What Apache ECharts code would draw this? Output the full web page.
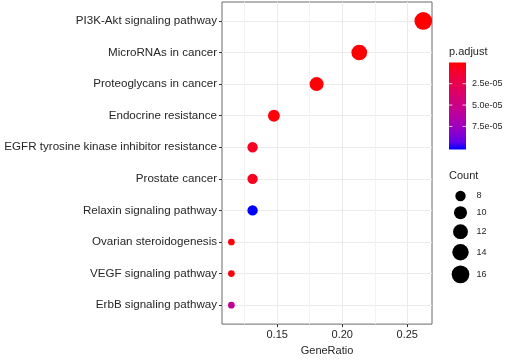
<!DOCTYPE html>
<html>
<head>
<meta charset="utf-8">
<script src="https://cdn.jsdelivr.net/npm/echarts@6/dist/echarts.min.js"></script>
<style>html,body{margin:0;padding:0;background:#fff}#c{width:505px;height:361px}</style>
</head>
<body>
<div id="c"></div>
<script>
const categories = ['PI3K-Akt signaling pathway', 'MicroRNAs in cancer', 'Proteoglycans in cancer', 'Endocrine resistance', 'EGFR tyrosine kinase inhibitor resistance', 'Prostate cancer', 'Relaxin signaling pathway', 'Ovarian steroidogenesis', 'VEGF signaling pathway', 'ErbB signaling pathway'];
const geneRatio = [0.2623, 0.2131, 0.1803, 0.1475, 0.1311, 0.1311, 0.1311, 0.1148, 0.1148, 0.1148];
const counts = [16, 13, 11, 9, 8, 8, 8, 7, 7, 7];
const pAdjust = [2.0e-7, 1.0e-6, 1.5e-6, 2.5e-6, 8.5e-6, 7.0e-6, 1.02e-4, 2.5e-6, 3.0e-6, 5.6e-5];
const xTicks = [0.15, 0.20, 0.25];
const xMinorTicks = [0.125, 0.175, 0.225];
const colorTicks = [2.5e-5, 5.0e-5, 7.5e-5];
const colorTickLabels = ['2.5e-05', '5.0e-05', '7.5e-05'];
const countLegend = [8, 10, 12, 14, 16];

// ---- Lab interpolation red -> blue (like ggplot gradient) ----
function srgbToLin(c){c/=255;return c<=0.04045?c/12.92:Math.pow((c+0.055)/1.055,2.4);}
function linToSrgb(c){c=c<=0.0031308?12.92*c:1.055*Math.pow(c,1/2.4)-0.055;return Math.max(0,Math.min(255,Math.round(c*255)));}
function rgb2lab(r,g,b){
  r=srgbToLin(r);g=srgbToLin(g);b=srgbToLin(b);
  let x=(r*0.4124+g*0.3576+b*0.1805)/0.95047, y=(r*0.2126+g*0.7152+b*0.0722), z=(r*0.0193+g*0.1192+b*0.9505)/1.08883;
  const f=t=>t>0.008856?Math.cbrt(t):7.787*t+16/116;
  x=f(x);y=f(y);z=f(z);
  return [116*y-16,500*(x-y),200*(y-z)];
}
function lab2rgb(L,a,b){
  let y=(L+16)/116,x=a/500+y,z=y-b/200;
  const fi=t=>t*t*t>0.008856?t*t*t:(t-16/116)/7.787;
  x=fi(x)*0.95047;y=fi(y);z=fi(z)*1.08883;
  const r=x*3.2406+y*-1.5372+z*-0.4986, g=x*-0.9689+y*1.8758+z*0.0415, bb=x*0.0557+y*-0.2040+z*1.0570;
  return 'rgb('+linToSrgb(r)+','+linToSrgb(g)+','+linToSrgb(bb)+')';
}
const labLow = rgb2lab(255,0,0), labHigh = rgb2lab(0,0,255);
const nStops = 12;
const stopColors = [];
for (let i=0;i<=nStops;i++){
  const t=i/nStops;
  stopColors.push(lab2rgb(labLow[0]+(labHigh[0]-labLow[0])*t, labLow[1]+(labHigh[1]-labLow[1])*t, labLow[2]+(labHigh[2]-labLow[2])*t));
}
const pMin = Math.min(...pAdjust), pMax = Math.max(...pAdjust);

function sizeOf(c){
  const cMin = Math.min(...counts), cMax = Math.max(...counts);
  return 6.7 + 11 * Math.sqrt((c - cMin) / (cMax - cMin));
}

const n = categories.length;
const seriesData = categories.map((c, i) => [geneRatio[i], n - i, counts[i], pAdjust[i]]);
const yTickVals = categories.map((c, i) => n - i);

const FONT = 'Liberation Sans';
const TXT = '#262626';

// ---- legend graphics ----
const gfx = [];
const barX = 449, barY = 62.5, barW = 17, barH = 87;
gfx.push({type:'text', left: barX, top: 46, style:{text:'p.adjust', font:'11px "'+FONT+'"', fill:TXT}});
gfx.push({type:'rect', shape:{x:barX, y:barY, width:barW, height:barH},
  style:{fill:{type:'linear', x:0, y:0, x2:0, y2:1, colorStops: stopColors.map((c,i)=>({offset:i/nStops, color:c}))}}});
colorTicks.forEach((v, i) => {
  const yy = barY + barH * (v - pMin) / (pMax - pMin);
  gfx.push({type:'line', shape:{x1:barX, y1:yy, x2:barX+3.4, y2:yy}, style:{stroke:'rgba(255,255,255,0.8)', lineWidth:1}});
  gfx.push({type:'line', shape:{x1:barX+barW-3.4, y1:yy, x2:barX+barW, y2:yy}, style:{stroke:'rgba(255,255,255,0.8)', lineWidth:1}});
  gfx.push({type:'text', x: 472, y: yy, style:{text: colorTickLabels[i], font:'9px "'+FONT+'"', fill:TXT, textVerticalAlign:'middle'}});
});
gfx.push({type:'text', left: barX, top: 170, style:{text:'Count', font:'11px "'+FONT+'"', fill:TXT}});
let cy = 188.3;
countLegend.forEach((c, i) => {
  const d = sizeOf(c);
  const slot = d + 5;
  const yc = cy + slot / 2;
  gfx.push({type:'circle', shape:{cx:460.5, cy:yc, r:d/2}, style:{fill:'#000'}});
  gfx.push({type:'text', x: 476.5, y: yc, style:{text:String(c), font:'9px "'+FONT+'"', fill:TXT, textVerticalAlign:'middle'}});
  cy += slot;
});

const chart = echarts.init(document.getElementById('c'), null, {renderer:'canvas'});
chart.setOption({
  animation: false,
  backgroundColor: '#fff',
  textStyle: {fontFamily: FONT},
  grid: {left: 222, right: 73, top: 2, bottom: 32, show: true, borderColor: '#6b6b6b', borderWidth: 1, backgroundColor: 'transparent', containLabel: false},
  visualMap: {show: false, type: 'continuous', dimension: 3, min: pMin, max: pMax, seriesIndex: 0, inRange: {color: stopColors}},
  xAxis: [{
    type: 'value', min: 0.1076, max: 0.269, position: 'bottom',
    axisLine: {show: false},
    axisTick: {show: true, length: 3, customValues: xTicks, lineStyle: {color: '#333'}},
    axisLabel: {customValues: xTicks, formatter: v => v.toFixed(2), color: TXT, fontSize: 11, margin: 5, fontFamily: FONT},
    splitLine: {show: true, lineStyle: {color: '#ebebeb', width: 1}},
    name: 'GeneRatio', nameLocation: 'middle', nameGap: 19,
    nameTextStyle: {color: TXT, fontSize: 11, fontFamily: FONT}
  }, {
    type: 'value', min: 0.1076, max: 0.269, position: 'bottom',
    axisLine: {show: false},
    axisTick: {show: false, customValues: xMinorTicks},
    axisLabel: {show: false, customValues: xMinorTicks},
    splitLine: {show: true, lineStyle: {color: '#f3f3f3', width: 1}}
  }],
  yAxis: {
    type: 'value', min: 0.4, max: n + 0.6,
    axisLine: {show: false},
    axisTick: {show: true, length: 3, customValues: yTickVals, lineStyle: {color: '#333'}},
    axisLabel: {customValues: yTickVals, formatter: v => categories[n - Math.round(v)], color: TXT, fontSize: 11.6, margin: 5, fontFamily: FONT},
    splitLine: {show: true, lineStyle: {color: '#ebebeb', width: 1}}
  },
  series: [{
    type: 'scatter', xAxisIndex: 0, yAxisIndex: 0,
    data: seriesData,
    symbol: 'circle',
    symbolSize: v => sizeOf(v[2]),
    itemStyle: {opacity: 1}
  }],
  graphic: gfx
});
</script>
</body>
</html>
